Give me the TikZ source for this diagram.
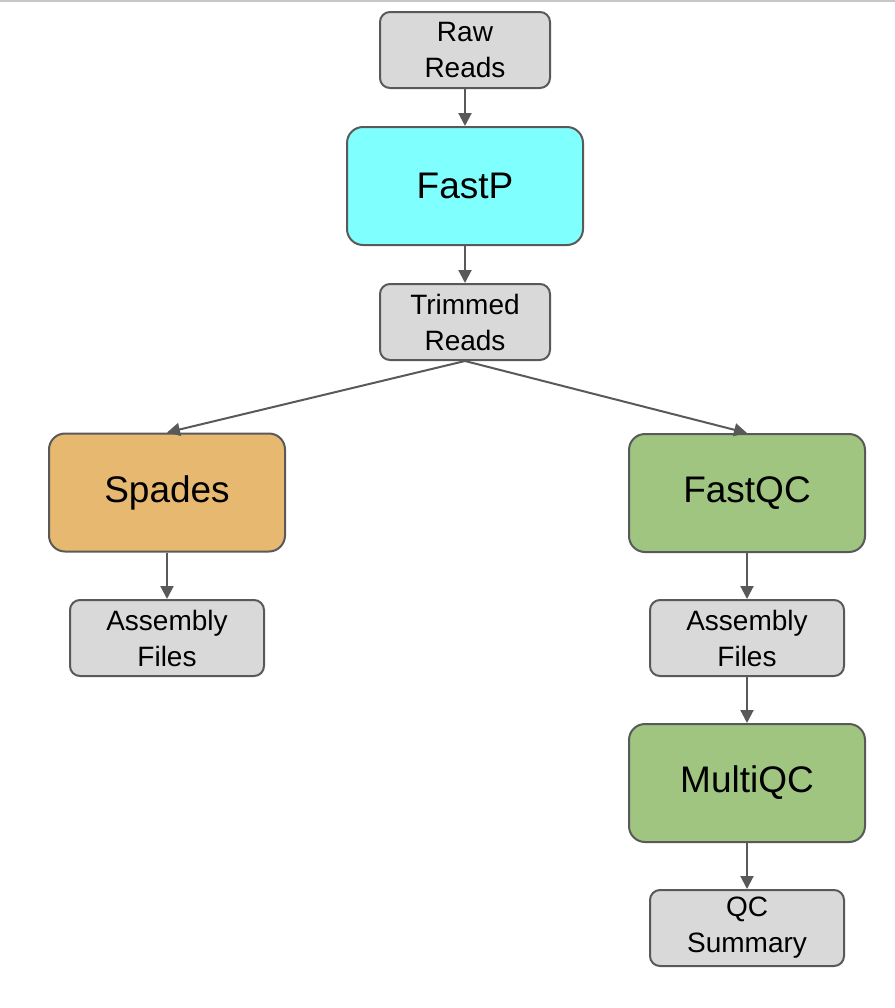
\documentclass[tikz,border=0pt]{standalone}
\usepackage{fontspec}
\setmainfont{Liberation Sans}
\usetikzlibrary{arrows.meta}
\definecolor{boxgray}{HTML}{D9D9D9}
\definecolor{edgegray}{HTML}{595959}
\definecolor{fastpcyan}{HTML}{80FFFF}
\definecolor{spadesorange}{HTML}{E6B870}
\definecolor{qcgreen}{HTML}{9FC581}
\begin{document}
\begin{tikzpicture}[
                        x=0.5pt, y=-0.5pt,
                        >={Triangle[length=6.5pt,width=6.5pt]},
                        data/.style={rectangle, draw=edgegray, fill=boxgray, line width=1pt, rounded corners=5pt, minimum width=85pt, minimum height=38pt, align=center, font=\fontsize{14}{18}\selectfont},
                        wide/.style={data, minimum width=97pt},
                        tool/.style={rectangle, draw=edgegray, line width=1pt, rounded corners=8pt, minimum width=118pt, minimum height=59pt, align=center, font=\fontsize{18.5}{22}\selectfont}
                    ]
                    \useasboundingbox (0,0) rectangle (895,1008);
                    \draw [line width=1pt, draw=black!22] (0,1) -- (895,1);
                    % Blocks
                    \node [data] (raw) at (465,50) {Raw\\Reads};
                    \node [tool, fill=fastpcyan] (fastp) at (465,186) {FastP};
                    \node [data] (trimmed) at (465,322) {Trimmed\\Reads};
                    \node [tool, fill=spadesorange] (spades) at (167,492.5) {Spades};
                    \node [tool, fill=qcgreen] (fastqc) at (747,493) {FastQC};
                    \node [wide] (asmL) at (167,638) {Assembly\\Files};
                    \node [wide] (asmR) at (747,638) {Assembly\\Files};
                    \node [tool, fill=qcgreen] (multiqc) at (747,783) {MultiQC};
                    \node [wide] (summary) at (747,928) {QC\\Summary};

                    % Connections
                    \begin{scope}[draw=edgegray, line width=1pt]
                    \draw [->] (raw) -- (fastp);
                    \draw [->] (fastp) -- (trimmed);
                    \draw [->] (trimmed.south) -- (spades.north);
                    \draw [->] (trimmed.south) -- (fastqc.north);
                    \draw [->] (spades) -- (asmL);
                    \draw [->] (fastqc) -- (asmR);
                    \draw [->] (asmR) -- (multiqc);
                    \draw [->] (multiqc) -- (summary);
                    \end{scope}
                \end{tikzpicture}
\end{document}
